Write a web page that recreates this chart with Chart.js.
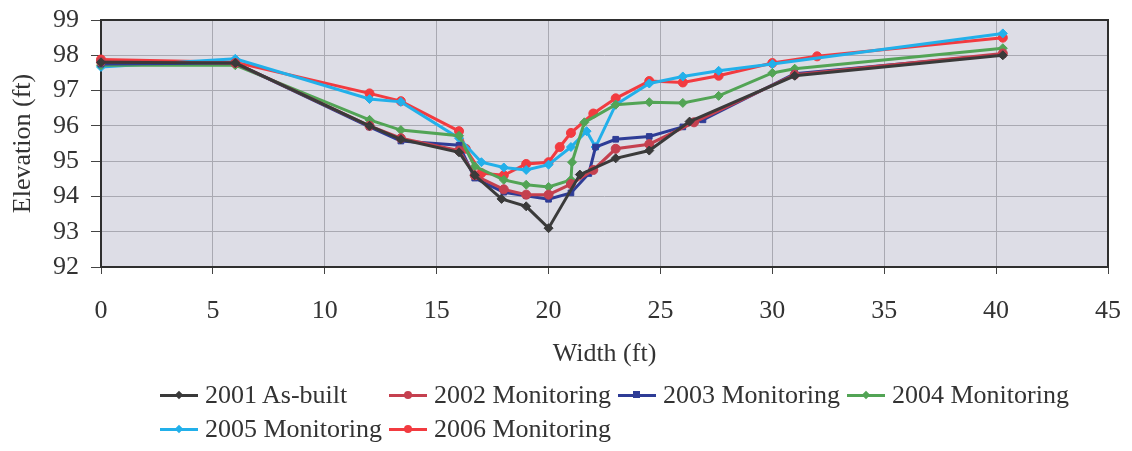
<!DOCTYPE html>
<html>
<head>
<meta charset="utf-8">
<script src="https://cdn.jsdelivr.net/npm/chart.js@4"></script>
<style>
  html, body { margin: 0; padding: 0; background: #fff; }
  #wrap { position: relative; width: 1132px; height: 451px; }
  #chart-legend {
    position: absolute; left: 160px; top: 379px;
    display: grid; grid-template-columns: repeat(4, 229px); row-gap: 2px;
    font-family: 'Liberation Serif', 'Times New Roman', serif; font-size: 26px; color: #333;
  }
</style>
</head>
<body>
<div id="wrap">
  <canvas id="cross-section" width="1132" height="451"></canvas>
  <div id="chart-legend"></div>
</div>
<script>
// width (ft) / elevation (ft)
const x2001 = [0, 6, 12, 13.4, 16, 16.7, 17.9, 19, 20, 21.4, 23, 24.5, 26.3, 31, 40.3];
const y2001 = [97.8, 97.78, 96.0, 95.62, 95.25, 94.6, 93.93, 93.72, 93.1, 94.62, 95.08, 95.3, 96.12, 97.42, 98.0];

const x2002 = [0, 6, 12, 13.4, 16, 16.7, 18, 19, 20, 21, 22, 23, 24.5, 26.5, 31, 40.3];
const y2002 = [97.82, 97.78, 96.0, 95.65, 95.3, 94.6, 94.2, 94.05, 94.05, 94.35, 94.75, 95.35, 95.48, 96.1, 97.45, 98.05];

const x2003 = [0, 6, 12, 13.4, 16, 16.7, 18, 19, 20, 21, 21.8, 22.1, 23, 24.5, 26, 26.9, 31, 40.3];
const y2003 = [97.75, 97.78, 95.97, 95.57, 95.45, 94.52, 94.12, 94.02, 93.92, 94.1, 94.65, 95.4, 95.62, 95.7, 95.97, 96.17, 97.48, 98.02];

const x2004 = [0, 6, 12, 13.4, 16, 16.7, 18, 19, 20, 21, 21.05, 21.6, 23, 24.5, 26, 27.6, 30, 31, 40.3];
const y2004 = [97.72, 97.72, 96.17, 95.88, 95.72, 94.85, 94.47, 94.33, 94.27, 94.47, 94.97, 96.1, 96.6, 96.67, 96.65, 96.85, 97.5, 97.62, 98.2];

const x2005 = [0, 6, 12, 13.4, 16, 17, 18, 19, 20, 21, 21.7, 22.1, 23, 24.5, 26, 27.6, 30, 40.3];
const y2005 = [97.67, 97.9, 96.76, 96.68, 95.65, 94.97, 94.82, 94.75, 94.9, 95.4, 95.85, 95.4, 96.6, 97.2, 97.4, 97.56, 97.75, 98.62];

const x2006 = [0, 6, 12, 13.4, 16, 16.3, 17, 18, 19, 20, 20.5, 21, 22, 23, 24.5, 26, 27.6, 30, 32, 40.3];
const y2006 = [97.88, 97.8, 96.92, 96.7, 95.85, 95.35, 94.66, 94.6, 94.92, 94.97, 95.4, 95.8, 96.35, 96.78, 97.27, 97.23, 97.42, 97.78, 97.97, 98.5];

const seriesLabels = ['2001 As-built', '2002 Monitoring', '2003 Monitoring', '2004 Monitoring', '2005 Monitoring', '2006 Monitoring'];
const seriesX = [x2001, x2002, x2003, x2004, x2005, x2006];
const seriesY = [y2001, y2002, y2003, y2004, y2005, y2006];
const seriesColors = ['#3a3a3a', '#c5404f', '#2e3c96', '#52a455', '#22b0ea', '#f23b40'];
const seriesMarkers = ['rectRot', 'circle', 'rect', 'rectRot', 'rectRot', 'circle'];

const FONT = "'Liberation Serif', 'Times New Roman', serif";

const datasets = seriesLabels.map((label, i) => ({
  label,
  data: seriesX[i].map((x, j) => ({ x, y: seriesY[i][j] })),
  borderColor: seriesColors[i],
  backgroundColor: seriesColors[i],
  borderWidth: 3,
  pointStyle: seriesMarkers[i],
  pointRadius: seriesMarkers[i] === 'rect' ? 4 : 4.5,
  pointBorderWidth: 1,
  tension: 0,
  clip: false,
}));

// plot background + frame, drawn under the lines
const plotFrame = {
  id: 'plot_frame',
  beforeDraw(chart) {
    const { ctx, chartArea: a } = chart;
    ctx.save();
    ctx.fillStyle = '#dddde6';
    ctx.fillRect(a.left, a.top, a.right - a.left, a.bottom - a.top);
    ctx.restore();
  },
  beforeDatasetsDraw(chart) {
    const { ctx, chartArea: a } = chart;
    ctx.save();
    ctx.strokeStyle = '#2f2f2f';
    ctx.lineWidth = 2;
    ctx.strokeRect(a.left, a.top, a.right - a.left, a.bottom - a.top);
    ctx.restore();
  }
};

const htmlLegend = {
  id: 'custom_legend',
  afterUpdate(chart) {
    const legendContainer = document.getElementById('chart-legend');
    legendContainer.innerHTML = chart.data.datasets.map(ds => {
      let mark = '';
      if (ds.pointStyle === 'circle') {
        mark = `<div style="position:absolute;left:15px;top:-3px;width:8px;height:8px;border-radius:50%;background:${ds.borderColor};"></div>`;
      } else if (ds.pointStyle === 'rect') {
        mark = `<div style="position:absolute;left:15px;top:-3px;width:7px;height:7px;background:${ds.borderColor};"></div>`;
      } else {
        mark = `<div style="position:absolute;left:16px;top:-2px;width:6px;height:6px;transform:rotate(45deg);background:${ds.borderColor};"></div>`;
      }
      return `
        <div style="display:flex;align-items:center;height:32px;white-space:nowrap;">
          <div style="position:relative;width:38px;height:3px;background:${ds.borderColor};margin-right:7px;">${mark}</div>
          <span>${ds.label}</span>
        </div>`;
    }).join('');
  }
};

new Chart(document.getElementById('cross-section').getContext('2d'), {
  type: 'line',
  data: { datasets },
  options: {
    responsive: false,
    animation: false,
    layout: { padding: { top: 20, right: 24, bottom: 81, left: 0 } },
    plugins: {
      legend: { display: false },
      tooltip: { enabled: false }
    },
    scales: {
      x: {
        type: 'linear',
        min: 0,
        max: 45,
        ticks: { stepSize: 5, padding: 22, color: '#333', font: { family: FONT, size: 26 }, maxRotation: 0 },
        grid: { color: '#a9a9b2', lineWidth: 1, tickLength: 7, tickColor: '#444' },
        border: { display: false },
        title: { display: true, text: 'Width (ft)', color: '#333', font: { family: FONT, size: 26 }, padding: 0 },
        afterFit(scale) {
          scale.height = 103;
          scale.paddingLeft = 0;
          scale.paddingRight = 0;
        }
      },
      y: {
        min: 92,
        max: 99,
        ticks: { stepSize: 1, padding: 12, color: '#333', font: { family: FONT, size: 26 } },
        grid: { color: '#a9a9b2', lineWidth: 1, tickLength: 10, tickColor: '#444' },
        border: { display: false },
        title: { display: true, text: 'Elevation (ft)', color: '#333', font: { family: FONT, size: 26 }, padding: { top: 8, bottom: 0 } },
        afterFit(scale) {
          scale.width = 101;
          scale.paddingTop = 0;
          scale.paddingBottom = 0;
        }
      }
    }
  },
  plugins: [plotFrame, htmlLegend]
});
</script>
</body>
</html>
